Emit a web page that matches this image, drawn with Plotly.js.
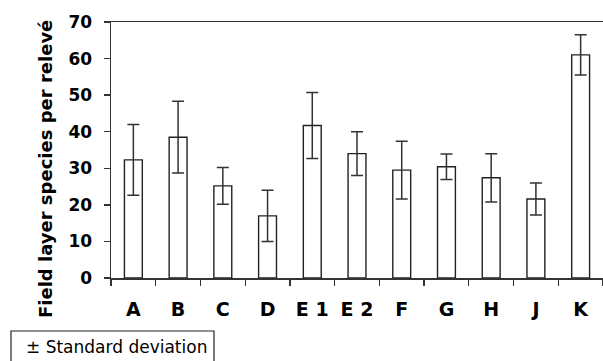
<!DOCTYPE html>
<html><head><meta charset="utf-8">
<script src="https://cdn.plot.ly/plotly-3.0.1.min.js"></script>
<style>html,body{margin:0;padding:0;background:#fff}#c{width:603px;height:361px}</style>
</head><body><div id="c"></div>
<script>
const categories = ["A","B","C","D","E 1","E 2","F","G","H","J","K"];
const meanSpecies = [32.3,38.5,25.2,17.0,41.7,34.0,29.5,30.4,27.4,21.6,61.0];
const stdDev = [9.7,9.8,5.0,7.0,9.0,6.0,7.9,3.5,6.6,4.4,5.5];
const yTicks = [0,10,20,30,40,50,60,70];

const FONT = 'DejaVu Sans, Verdana, sans-serif';
const trace = {
  type: 'bar', x: categories, y: meanSpecies,
  marker: {color: '#ffffff', line: {color: '#222', width: 1.4}},
  error_y: {type: 'data', array: stdDev, visible: true, color: '#333', thickness: 1.5, width: 6},
  hoverinfo: 'none'
};
const layout = {
  width: 603, height: 361,
  margin: {l: 111, r: 0, t: 22, b: 83, pad: 0},
  paper_bgcolor: '#fff', plot_bgcolor: '#fff',
  showlegend: false, bargap: 0.6,
  font: {family: FONT, color: '#000'},
  xaxis: {type: 'category', showline: true, mirror: true, linecolor: '#333', linewidth: 1.5,
    ticks: 'outside', tickson: 'boundaries', ticklen: 6, tickwidth: 1.3, tickcolor: '#333',
    tickfont: {size: 19, family: FONT, weight: 'bold'},
    ticklabelstandoff: 14, showgrid: false, zeroline: false, fixedrange: true},
  yaxis: {range: [0, 70], tickvals: yTicks, showline: true, linecolor: '#333', linewidth: 1.5,
    ticks: 'outside', ticklen: 6, tickwidth: 1.3, tickcolor: '#333',
    tickfont: {size: 17, family: FONT, weight: 'bold'},
    ticklabelstandoff: 8, showgrid: false, zeroline: false, fixedrange: true},
  annotations: [
    {text: '<b>Field layer species per relevé</b>', textangle: -90, xref: 'paper', yref: 'paper',
     x: (45 - 111) / 492, y: (278 - 169) / 256, xanchor: 'center', yanchor: 'middle', showarrow: false,
     font: {size: 18, family: FONT, color: '#000'}},
    {text: '± Standard deviation', xref: 'paper', yref: 'paper',
     x: (24 - 111) / 492, y: (278 - 346.5) / 256, xanchor: 'left', yanchor: 'middle', showarrow: false,
     font: {size: 17, family: FONT, color: '#000'}}
  ],
  shapes: [
    {type: 'rect', xref: 'paper', yref: 'paper', x0: (11 - 111) / 492, x1: (214 - 111) / 492,
     y0: (278 - 331) / 256, y1: (278 - 370) / 256, line: {color: '#222', width: 1.2}}
  ]
};
Plotly.newPlot('c', [trace], layout, {displayModeBar: false, staticPlot: true});
</script></body></html>
